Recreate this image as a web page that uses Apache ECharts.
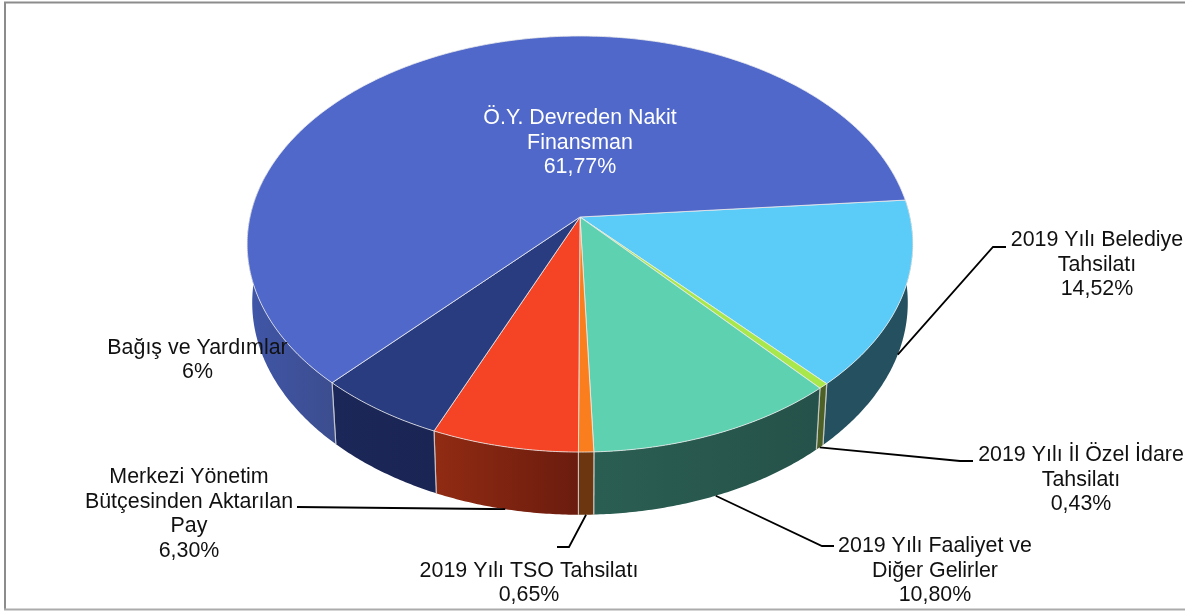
<!DOCTYPE html>
<html><head><meta charset="utf-8">
<style>html,body{margin:0;padding:0;background:#fff}#c{width:1185px;height:613px}</style>
<script src="https://cdn.jsdelivr.net/npm/echarts@6/dist/echarts.min.js"></script>
</head><body><div id="c"></div>
<script>
// Slices, clockwise from the light-blue one
const categories = ['2019 Yılı Belediye\nTahsilatı','2019 Yılı İl Özel İdare\nTahsilatı','2019 Yılı Faaliyet ve\nDiğer Gelirler','2019 Yılı TSO Tahsilatı','Merkezi Yönetim\nBütçesinden Aktarılan\nPay','Bağış ve Yardımlar','Ö.Y. Devreden Nakit\nFinansman'];
// The "6%" slice is drawn at the size the picture shows (the shares then add up to 100)
const values = [14.52,0.43,10.80,0.65,6.30,5.53,61.77];
const valueLabels = ['14,52%','0,43%','10,80%','0,65%','6,30%','6%','61,77%'];
const topColors = ['#5bcbf7','#a9e84d','#5ed1b0','#fb7e1e','#f44325','#293c80','#5068c9'];
const wallColors = [['#24505f','#24505f'],['#4d6127','#4d6127'],['#2b5e52','#25524a'],['#6b3610','#6b3610'],['#912b13','#6b1c0e'],['#1b2758','#1a2554'],['#4056a8','#3c4d8e']];
const labelPos = [[1097,265],[1081,480],[935,571],[529,583],[189,514],[197.5,360],[580,143]];
// elbow and end of each leader line (null = no leader)
const leaders = [[[993,247],[1006,247]],[[960,461],[973,461]],[[822,546],[834,546]],[[569,547],[557,547]],[[490,509],[297,507]],null,null];
const labelColors = ['#111','#111','#111','#111','#111','#111','#fff'];

const total = values.reduce((a,b)=>a+b,0);
const startDeg = -4.8;
const bounds = [startDeg];
values.forEach(v=>bounds.push(bounds[bounds.length-1]+v/total*360));

// perspective projection of the pie disc
const persp = {cx:580,cy:217,a:330,b:204.5,k:0.13};
const base = {cx:580,cy:275,a:325,b:208.6,k:0.13};
function proj(p,deg){
  const r=deg*Math.PI/180,x=Math.cos(r),y=Math.sin(r),w=1-p.k*y;
  return [p.cx+p.a*x/w,p.cy+p.b*y/w];
}
function arc(p,d0,d1){
  const pts=[],n=Math.max(2,Math.ceil(Math.abs(d1-d0)/0.5));
  for(let i=0;i<=n;i++)pts.push(proj(p,d0+(d1-d0)*i/n));
  return pts;
}
const VIS0=-12,VIS1=192;
const edge='rgba(235,235,235,0.8)';

function renderWall(params,api){
  const i=api.value(0);
  let d0=bounds[i],d1=bounds[i+1];
  const vis0=Math.max(d0,VIS0),vis1=Math.min(d1,VIS1);
  if(vis1<=vis0)return {type:'group',children:[]};
  const pts=arc(persp,vis0,vis1).concat(arc(base,vis1,vis0));
  const c=wallColors[i];
  const children=[{type:'polygon',shape:{points:pts},
    style:{fill:{type:'linear',x:0,y:0,x2:1,y2:0,colorStops:[{offset:0,color:c[0]},{offset:1,color:c[1]}]},stroke:null}}];
  [d0,d1].forEach(d=>{
    if(d>=VIS0&&d<=VIS1&&d>0){
      const A=proj(persp,d),B=proj(base,d);
      children.push({type:'line',shape:{x1:A[0],y1:A[1],x2:B[0],y2:B[1]},style:{stroke:'rgba(215,215,215,0.75)',lineWidth:1.2}});
    }
  });
  return {type:'group',children};
}
function renderTop(params,api){
  const i=api.value(0);
  const pts=[[persp.cx,persp.cy]].concat(arc(persp,bounds[i],bounds[i+1]));
  return {type:'polygon',shape:{points:pts},style:{fill:topColors[i],stroke:edge,lineWidth:1,lineJoin:'round'}};
}
function renderLabel(params,api){
  const i=api.value(0),children=[];
  if(leaders[i]){
    const mid=(bounds[i]+bounds[i+1])/2;
    children.push({type:'polyline',shape:{points:[proj(base,mid)].concat(leaders[i])},style:{stroke:'#000',lineWidth:1.8,fill:null}});
  }
  const txt=categories[i]+'\n'+valueLabels[i];
  children.push({type:'text',x:labelPos[i][0],y:labelPos[i][1],
    style:{text:txt,fill:labelColors[i],font:'21.4px "Liberation Sans", Arial, sans-serif',lineHeight:24.5,align:'center',verticalAlign:'middle'}});
  return {type:'group',children};
}
const rows=values.map((v,i)=>[i,v]);
const chart=echarts.init(document.getElementById('c'),null,{renderer:'canvas'});
chart.setOption({
  animation:false,
  backgroundColor:'#fff',
  graphic:[
    {type:'line',z:0,shape:{x1:4,y1:2.5,x2:1185,y2:2.5},style:{stroke:'#8c8c8c',lineWidth:2}},
    {type:'line',z:0,shape:{x1:5,y1:2,x2:5,y2:610},style:{stroke:'#8c8c8c',lineWidth:2}},
    {type:'line',z:0,shape:{x1:4,y1:609.5,x2:1185,y2:609.5},style:{stroke:'#ababab',lineWidth:2}}
  ],
  series:[
    {type:'custom',coordinateSystem:'none',z:1,silent:true,data:rows,renderItem:renderWall},
    {type:'custom',coordinateSystem:'none',z:2,silent:true,data:rows,renderItem:renderTop},
    {type:'custom',coordinateSystem:'none',z:3,silent:true,data:rows,renderItem:renderLabel}
  ]
});
</script></body></html>
